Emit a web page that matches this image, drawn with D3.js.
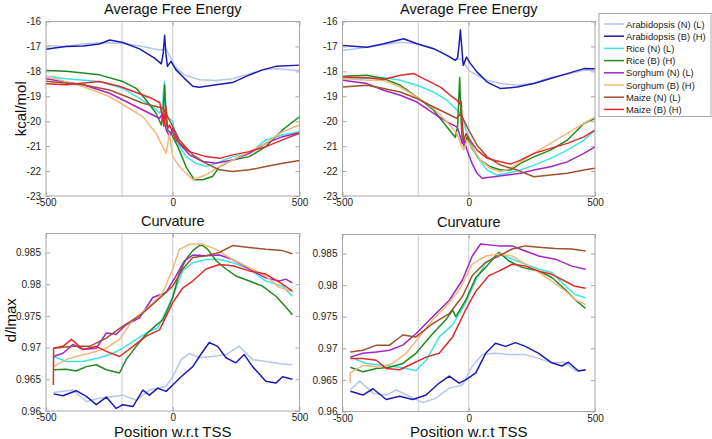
<!DOCTYPE html>
<html><head><meta charset="utf-8">
<script src="https://cdn.jsdelivr.net/npm/d3@7"></script>
<style>
html,body{margin:0;padding:0;background:#fff;}
svg{display:block;font-family:"Liberation Sans",Arial,sans-serif;}
</style></head>
<body><svg id="chart" width="712" height="439"></svg>
<script>
// ---------- DATA ----------
const seriesNames = ["Arabidopsis (N) (L)","Arabidopsis (B) (H)","Rice (N) (L)","Rice (B) (H)","Sorghum (N) (L)","Sorghum (B) (H)","Maize (N) (L)","Maize (B) (H)"];
const seriesColors = ["#b4c6ee","#1c1cb0","#3ee4e4","#208a20","#a424c4","#f2b87c","#a0522d","#e02a2a"];

const xTicks = [-500, 0, 500];
const energyTicks = [-16,-17,-18,-19,-20,-21,-22,-23];
const curvTicks = [0.96,0.965,0.97,0.975,0.98,0.985];
const markerLines = [-200, 0];

// Top-left: Average Free Energy
const tl_arabN = [[-500,-16.96],[-433,-17.0],[-354,-16.9],[-289,-16.85],[-197,-16.87],[-118,-17.0],[-52,-17.14],[-26,-17.12],[-7,-17.47],[7,-17.8],[46,-18.14],[105,-18.34],[171,-18.37],[236,-18.3],[289,-18.14],[354,-17.94],[407,-17.9],[500,-17.97]];
const tl_arabB = [[-500,-17.11],[-460,-17.05],[-420,-17.0],[-354,-16.98],[-289,-16.9],[-249,-16.74],[-197,-16.84],[-131,-17.1],[-72,-17.47],[-45,-17.7],[-38,-17.3],[-32,-16.55],[-27,-17.3],[-21,-17.8],[-7,-17.6],[13,-17.94],[46,-18.28],[79,-18.6],[105,-18.64],[171,-18.54],[236,-18.45],[289,-18.2],[354,-17.94],[407,-17.8],[500,-17.75]];
const tl_riceN = [[-500,-18.2],[-420,-18.3],[-289,-18.41],[-197,-18.68],[-131,-19.08],[-79,-19.41],[-52,-19.68],[-40,-19.3],[-33,-18.42],[-28,-19.3],[-22,-19.85],[-7,-19.95],[0,-20.0],[13,-20.75],[52,-21.42],[92,-21.69],[131,-21.82],[171,-21.69],[236,-21.42],[302,-21.29],[367,-20.75],[433,-20.55],[500,-20.42]];
const tl_riceB = [[-500,-17.97],[-420,-18.0],[-289,-18.14],[-197,-18.41],[-144,-18.68],[-105,-19.15],[-66,-19.68],[-45,-20.15],[-38,-19.6],[-32,-18.55],[-27,-19.95],[-20,-20.35],[-7,-20.48],[20,-21.02],[52,-21.82],[85,-22.35],[118,-22.35],[157,-22.22],[184,-21.82],[236,-21.56],[302,-21.42],[367,-21.02],[433,-20.35],[500,-19.82]];
const tl_sorgN = [[-500,-18.3],[-354,-18.54],[-249,-18.88],[-157,-19.35],[-92,-19.68],[-52,-19.88],[-39,-19.68],[-26,-20.35],[-13,-20.6],[0,-20.28],[26,-20.89],[66,-21.35],[118,-21.62],[171,-21.69],[236,-21.56],[302,-21.29],[367,-20.89],[433,-20.62],[500,-20.46]];
const tl_sorgB = [[-500,-18.2],[-354,-18.61],[-249,-19.01],[-184,-19.41],[-118,-19.82],[-66,-20.48],[-26,-21.29],[-13,-20.5],[0,-21.42],[26,-21.82],[66,-22.22],[79,-22.35],[131,-22.15],[184,-21.82],[236,-21.56],[302,-21.22],[367,-20.89],[433,-20.42],[500,-20.15]];
const tl_maizeN = [[-500,-18.4],[-354,-18.54],[-249,-18.75],[-184,-19.01],[-118,-19.28],[-66,-19.41],[-39,-19.48],[-20,-19.82],[0,-20.22],[26,-20.75],[79,-21.35],[131,-21.69],[184,-21.95],[236,-22.02],[302,-21.95],[367,-21.82],[433,-21.69],[500,-21.58]];
const tl_maizeB = [[-500,-18.5],[-420,-18.54],[-289,-18.41],[-210,-18.6],[-131,-18.9],[-79,-19.1],[-51,-19.26],[-35,-20.2],[-28,-19.35],[-20,-20.3],[-13,-20.15],[13,-20.75],[66,-21.22],[131,-21.42],[184,-21.49],[236,-21.35],[302,-21.22],[367,-21.02],[433,-20.75],[500,-20.48]];

// Top-right: Average Free Energy
const tr_arabN = [[-499,-17.16],[-403,-17.03],[-271,-16.83],[-205,-16.89],[-139,-17.09],[-86,-17.36],[-53,-17.56],[-33,-17.49],[-20,-17.63],[0,-17.96],[33,-18.16],[73,-18.36],[126,-18.49],[192,-18.56],[258,-18.47],[324,-18.25],[390,-18.12],[456,-17.96],[500,-17.96]];
const tr_arabB = [[-499,-16.96],[-403,-17.03],[-337,-16.89],[-258,-16.69],[-205,-16.89],[-139,-17.09],[-86,-17.36],[-53,-17.56],[-44,-17.45],[-38,-16.9],[-33,-16.33],[-28,-17.0],[-22,-17.76],[-9,-17.43],[7,-17.69],[33,-18.03],[73,-18.43],[126,-18.69],[192,-18.63],[258,-18.49],[324,-18.29],[390,-18.09],[456,-17.89],[500,-17.9]];
const tr_riceN = [[-499,-18.29],[-403,-18.29],[-337,-18.25],[-271,-18.36],[-205,-18.56],[-139,-18.83],[-86,-19.16],[-46,-19.56],[-26,-19.76],[-13,-20.29],[0,-20.63],[33,-21.43],[73,-21.96],[112,-22.16],[152,-22.09],[205,-21.96],[258,-21.76],[324,-21.49],[390,-21.16],[456,-20.76],[500,-20.36]];
const tr_riceB = [[-499,-18.2],[-403,-18.16],[-337,-18.29],[-271,-18.56],[-205,-19.03],[-139,-19.56],[-86,-20.23],[-53,-20.65],[-44,-20.2],[-36,-18.25],[-30,-20.0],[-26,-20.76],[-17,-21.03],[-7,-20.63],[13,-21.09],[46,-21.56],[86,-21.83],[126,-21.96],[165,-21.96],[205,-21.69],[258,-21.43],[324,-21.16],[390,-20.76],[456,-20.09],[500,-19.89]];
const tr_sorgN = [[-499,-18.36],[-403,-18.49],[-337,-18.76],[-271,-18.96],[-205,-19.23],[-139,-19.69],[-86,-20.03],[-46,-20.23],[-33,-20.63],[-26,-20.9],[-20,-20.7],[-7,-21.16],[13,-21.69],[33,-22.09],[53,-22.29],[99,-22.23],[152,-22.16],[205,-22.09],[258,-21.96],[324,-21.83],[390,-21.63],[456,-21.29],[500,-21.03]];
const tr_sorgB = [[-499,-18.29],[-403,-18.36],[-337,-18.36],[-271,-18.63],[-205,-19.03],[-139,-19.49],[-86,-20.03],[-46,-20.49],[-33,-20.89],[-20,-21.16],[-7,-20.76],[20,-21.16],[46,-21.56],[86,-21.89],[126,-22.03],[165,-21.89],[205,-21.63],[258,-21.29],[324,-20.89],[390,-20.49],[456,-20.09],[500,-19.83]];
const tr_maizeN = [[-499,-18.63],[-403,-18.56],[-337,-18.69],[-271,-18.83],[-205,-19.09],[-139,-19.43],[-86,-19.69],[-46,-19.89],[-33,-19.69],[-20,-19.95],[0,-20.36],[33,-20.96],[73,-21.43],[126,-21.76],[192,-21.96],[258,-22.23],[324,-22.16],[390,-22.09],[456,-21.96],[500,-21.89]];
const tr_maizeB = [[-499,-18.23],[-403,-18.26],[-337,-18.33],[-271,-18.16],[-218,-18.09],[-165,-18.36],[-112,-18.63],[-73,-18.96],[-46,-19.16],[-36,-19.3],[-30,-19.2],[-26,-20.0],[-20,-20.76],[-11,-20.5],[0,-20.69],[33,-21.16],[73,-21.49],[126,-21.63],[165,-21.72],[205,-21.56],[258,-21.29],[324,-21.09],[390,-20.89],[456,-20.63],[500,-20.36]];

// Bottom-left: Curvature
const bl_arabN = [[-470,0.9629],[-394,0.9633],[-341,0.9615],[-289,0.9620],[-236,0.9623],[-197,0.9625],[-144,0.9617],[-92,0.9633],[-26,0.9639],[0,0.9654],[33,0.9681],[66,0.9691],[105,0.9684],[157,0.9686],[210,0.9689],[262,0.9702],[315,0.9681],[367,0.9678],[433,0.9674],[472,0.9673]];
const bl_arabB = [[-470,0.9627],[-433,0.9624],[-381,0.9632],[-341,0.9623],[-302,0.9610],[-262,0.9622],[-223,0.9604],[-197,0.9610],[-157,0.9607],[-118,0.9633],[-92,0.9625],[-59,0.9636],[-26,0.9631],[0,0.9641],[33,0.9654],[79,0.9670],[105,0.9686],[144,0.9708],[177,0.9702],[210,0.9684],[249,0.9676],[282,0.9689],[315,0.9670],[367,0.9647],[407,0.9644],[433,0.9654],[472,0.9650]];
const bl_riceN = [[-470,0.9686],[-420,0.9678],[-354,0.9678],[-289,0.9684],[-249,0.9689],[-197,0.9699],[-144,0.9713],[-92,0.9726],[-59,0.9731],[-26,0.9758],[0,0.9781],[39,0.9821],[79,0.9834],[131,0.9839],[184,0.9839],[236,0.9834],[302,0.9824],[367,0.9805],[433,0.9797],[472,0.9781]];
const bl_riceB = [[-470,0.9665],[-420,0.9666],[-381,0.9663],[-341,0.9670],[-302,0.9673],[-262,0.9665],[-210,0.9660],[-184,0.9681],[-144,0.9702],[-105,0.9721],[-66,0.9735],[-39,0.9744],[-20,0.9760],[0,0.9779],[26,0.9818],[52,0.9839],[79,0.9853],[112,0.9863],[138,0.9855],[171,0.9837],[210,0.9824],[249,0.9813],[302,0.9805],[354,0.9797],[407,0.9781],[446,0.9764],[472,0.9752]];
const bl_sorgN = [[-470,0.9686],[-433,0.9691],[-394,0.9705],[-354,0.9697],[-302,0.9699],[-262,0.9723],[-223,0.9721],[-184,0.9736],[-131,0.9747],[-79,0.9779],[-26,0.9787],[13,0.9813],[46,0.9837],[79,0.9846],[131,0.9845],[184,0.9846],[236,0.9839],[302,0.9824],[367,0.9810],[420,0.9805],[446,0.9808],[472,0.9802]];
const bl_sorgB = [[-470,0.9670],[-420,0.9681],[-381,0.9686],[-328,0.9691],[-262,0.9699],[-210,0.9713],[-157,0.9744],[-92,0.9765],[-39,0.9787],[0,0.9824],[26,0.9855],[66,0.9863],[118,0.9863],[171,0.9855],[236,0.9839],[302,0.9826],[367,0.9813],[420,0.9795],[472,0.9789]];
const bl_maizeN = [[-470,0.9699],[-394,0.9702],[-328,0.9702],[-262,0.9715],[-197,0.9734],[-131,0.9750],[-66,0.9773],[0,0.9797],[39,0.9824],[79,0.9842],[131,0.9845],[184,0.9850],[236,0.9861],[302,0.9858],[367,0.9855],[433,0.9853],[472,0.9848]];
const bl_maizeB = [[-471,0.9641],[-470,0.9699],[-433,0.9702],[-400,0.9713],[-354,0.9697],[-302,0.9702],[-262,0.9694],[-210,0.9686],[-157,0.9702],[-105,0.9718],[-52,0.9728],[0,0.9771],[39,0.9794],[79,0.9805],[131,0.9824],[184,0.9831],[236,0.9829],[302,0.9821],[367,0.9816],[433,0.9800],[472,0.9789]];

// Bottom-right: Curvature
const br_arabN = [[-469,0.9634],[-432,0.9648],[-379,0.9629],[-327,0.9626],[-287,0.9634],[-235,0.9624],[-182,0.9614],[-130,0.9621],[-77,0.9637],[-25,0.9642],[14,0.9672],[54,0.9690],[106,0.9692],[159,0.9690],[224,0.9690],[277,0.9684],[329,0.9677],[382,0.9678],[421,0.9665],[463,0.9665]];
const br_arabB = [[-469,0.9632],[-419,0.9626],[-379,0.9636],[-327,0.9619],[-274,0.9624],[-222,0.9619],[-169,0.9626],[-117,0.9645],[-77,0.9656],[-38,0.9645],[-12,0.9650],[28,0.9661],[67,0.9692],[106,0.9708],[146,0.9703],[185,0.9709],[224,0.9703],[277,0.9692],[329,0.9677],[369,0.9672],[395,0.9678],[434,0.9664],[463,0.9666]];
const br_riceN = [[-469,0.9686],[-406,0.9676],[-340,0.9673],[-274,0.9670],[-209,0.9665],[-169,0.9681],[-117,0.9718],[-64,0.9737],[-12,0.9772],[28,0.9808],[67,0.9835],[119,0.9849],[172,0.9841],[224,0.9833],[277,0.9825],[329,0.9820],[382,0.9799],[421,0.9785],[463,0.9780]];
const br_riceB = [[-469,0.9670],[-419,0.9663],[-366,0.9668],[-314,0.9670],[-261,0.9676],[-209,0.9692],[-143,0.9723],[-91,0.9745],[-64,0.9760],[-51,0.9750],[-12,0.9776],[28,0.9812],[67,0.9828],[119,0.9852],[159,0.9838],[211,0.9828],[277,0.9822],[329,0.9812],[382,0.9793],[421,0.9777],[463,0.9763]];
const br_sorgN = [[-469,0.9686],[-419,0.9692],[-366,0.9694],[-314,0.9697],[-261,0.9705],[-209,0.9723],[-143,0.9750],[-77,0.9776],[-25,0.9808],[14,0.9846],[47,0.9865],[119,0.9862],[172,0.9862],[224,0.9854],[277,0.9846],[343,0.9841],[408,0.9830],[463,0.9825]];
const br_sorgB = [[-470,0.9645],[-469,0.9661],[-419,0.9673],[-353,0.9670],[-301,0.9676],[-248,0.9692],[-196,0.9718],[-143,0.9745],[-91,0.9766],[-38,0.9792],[14,0.9833],[67,0.9846],[119,0.9849],[172,0.9846],[224,0.9833],[277,0.9820],[329,0.9806],[382,0.9791],[421,0.9777],[463,0.9769]];
const br_maizeN = [[-469,0.9694],[-419,0.9697],[-366,0.9705],[-314,0.9705],[-261,0.9721],[-209,0.9718],[-143,0.9739],[-77,0.9755],[-25,0.9782],[14,0.9815],[67,0.9836],[119,0.9846],[172,0.9857],[224,0.9862],[277,0.9860],[343,0.9858],[408,0.9857],[463,0.9854]];
const br_maizeB = [[-469,0.9684],[-419,0.9684],[-366,0.9681],[-327,0.9668],[-274,0.9666],[-222,0.9676],[-169,0.9686],[-117,0.9692],[-64,0.9718],[-12,0.9761],[28,0.9790],[80,0.9815],[119,0.9822],[172,0.9833],[224,0.9830],[277,0.9822],[329,0.9817],[382,0.9806],[421,0.9798],[463,0.9795]];

// ---------- DRAWING ----------
const svg = d3.select("#chart");
const panels = [
  {box:[46,299.5,21.5,196], y:[-23,-16], ticks:energyTicks, fmt:d=>String(d), title:"Average Free Energy", ylabel:"kcal/mol", xlabel:null,
   data:[tl_arabN,tl_arabB,tl_riceN,tl_riceB,tl_sorgN,tl_sorgB,tl_maizeN,tl_maizeB]},
  {box:[342.5,595,21.5,196], y:[-23,-16], ticks:energyTicks, fmt:d=>String(d), title:"Average Free Energy", ylabel:null, xlabel:null,
   data:[tr_arabN,tr_arabB,tr_riceN,tr_riceB,tr_sorgN,tr_sorgB,tr_maizeN,tr_maizeB]},
  {box:[46,299.5,233.5,411], y:[0.96,0.988], ticks:curvTicks, fmt:d=>String(+d.toFixed(3)), title:"Curvature", ylabel:"d/lmax", xlabel:"Position w.r.t TSS",
   data:[bl_arabN,bl_arabB,bl_riceN,bl_riceB,bl_sorgN,bl_sorgB,bl_maizeN,bl_maizeB]},
  {box:[342.5,595,234.5,411.5], y:[0.96,0.988], ticks:curvTicks, fmt:d=>String(+d.toFixed(3)), title:"Curvature", ylabel:null, xlabel:"Position w.r.t TSS",
   data:[br_arabN,br_arabB,br_riceN,br_riceB,br_sorgN,br_sorgB,br_maizeN,br_maizeB]}
];

panels.forEach((p,pi)=>{
  const [L,R,T,B] = p.box;
  const x = d3.scaleLinear().domain([-500,500]).range([L,R]);
  const y = d3.scaleLinear().domain(p.y).range([B,T]);
  const g = svg.append("g");
  const clipId = "clip"+pi;
  svg.append("clipPath").attr("id",clipId).append("rect").attr("x",L).attr("y",T).attr("width",R-L).attr("height",B-T);

  markerLines.forEach(v=>{
    g.append("line").attr("x1",x(v)).attr("x2",x(v)).attr("y1",T).attr("y2",B)
     .attr("stroke","#999").attr("stroke-width",1).attr("stroke-dasharray","1,1");
  });

  const line = d3.line().x(d=>x(d[0])).y(d=>y(d[1]));
  const lg = g.append("g").attr("clip-path",`url(#${clipId})`);
  p.data.forEach((s,i)=>{
    lg.append("path").attr("d",line(s)).attr("fill","none")
      .attr("stroke",seriesColors[i]).attr("stroke-width",1.5).attr("stroke-linejoin","round");
  });

  g.append("rect").attr("x",L).attr("y",T).attr("width",R-L).attr("height",B-T)
   .attr("fill","none").attr("stroke","#a8a8a8").attr("stroke-width",1);

  const yAxis = d3.axisLeft(y).tickValues(p.ticks).tickFormat(p.fmt).tickSizeInner(-4).tickSizeOuter(0).tickPadding(5);
  const ya = g.append("g").attr("transform",`translate(${L},0)`).call(yAxis);
  const yAxisR = d3.axisRight(y).tickValues(p.ticks).tickFormat("").tickSizeInner(-4).tickSizeOuter(0);
  const yaR = g.append("g").attr("transform",`translate(${R},0)`).call(yAxisR);
  const xAxis = d3.axisBottom(x).tickValues(xTicks).tickFormat(d=>String(d)).tickSizeInner(-4).tickSizeOuter(0).tickPadding(3);
  const xa = g.append("g").attr("transform",`translate(0,${B})`).call(xAxis);
  const xAxisT = d3.axisTop(x).tickValues(xTicks).tickFormat("").tickSizeInner(-4).tickSizeOuter(0);
  const xaT = g.append("g").attr("transform",`translate(0,${T})`).call(xAxisT);
  [ya,yaR,xa,xaT].forEach(a=>{
    a.select(".domain").remove();
    a.selectAll(".tick line").attr("stroke","#a8a8a8");
    a.selectAll("text").attr("fill","#222").style("font-size","10px").style("font-family","'Liberation Sans',Arial,sans-serif");
  });

  g.append("text").attr("x",(L+R)/2).attr("y",T-8).attr("text-anchor","middle")
   .style("font-size","14.5px").attr("fill","#111").text(p.title);
  if(p.ylabel){
    g.append("text").attr("transform",`translate(${pi<2?26:16},${(T+B)/2 - (pi<2?0:2)}) rotate(-90)`)
     .attr("text-anchor","middle").style("font-size","15px").attr("fill","#111").text(p.ylabel);
  }
  if(p.xlabel){
    g.append("text").attr("x",(L+R)/2).attr("y",436.5).attr("text-anchor","middle")
     .style("font-size","15px").attr("fill","#111").text(p.xlabel);
  }
});

// legend
const legX = 599, legY = 13.5, legW = 112, legH = 103;
const leg = svg.append("g");
leg.append("rect").attr("x",legX).attr("y",legY).attr("width",legW).attr("height",legH)
  .attr("fill","#fff").attr("stroke","#a8a8a8").attr("stroke-width",1);
seriesNames.forEach((n,i)=>{
  const yy = legY + 10.5 + i*12.2;
  leg.append("line").attr("x1",legX+5).attr("x2",legX+25).attr("y1",yy).attr("y2",yy)
    .attr("stroke",seriesColors[i]).attr("stroke-width",1.5);
  leg.append("text").attr("x",legX+27).attr("y",yy+3.5).style("font-size","9.4px").attr("fill","#222").text(n);
});
</script></body></html>
